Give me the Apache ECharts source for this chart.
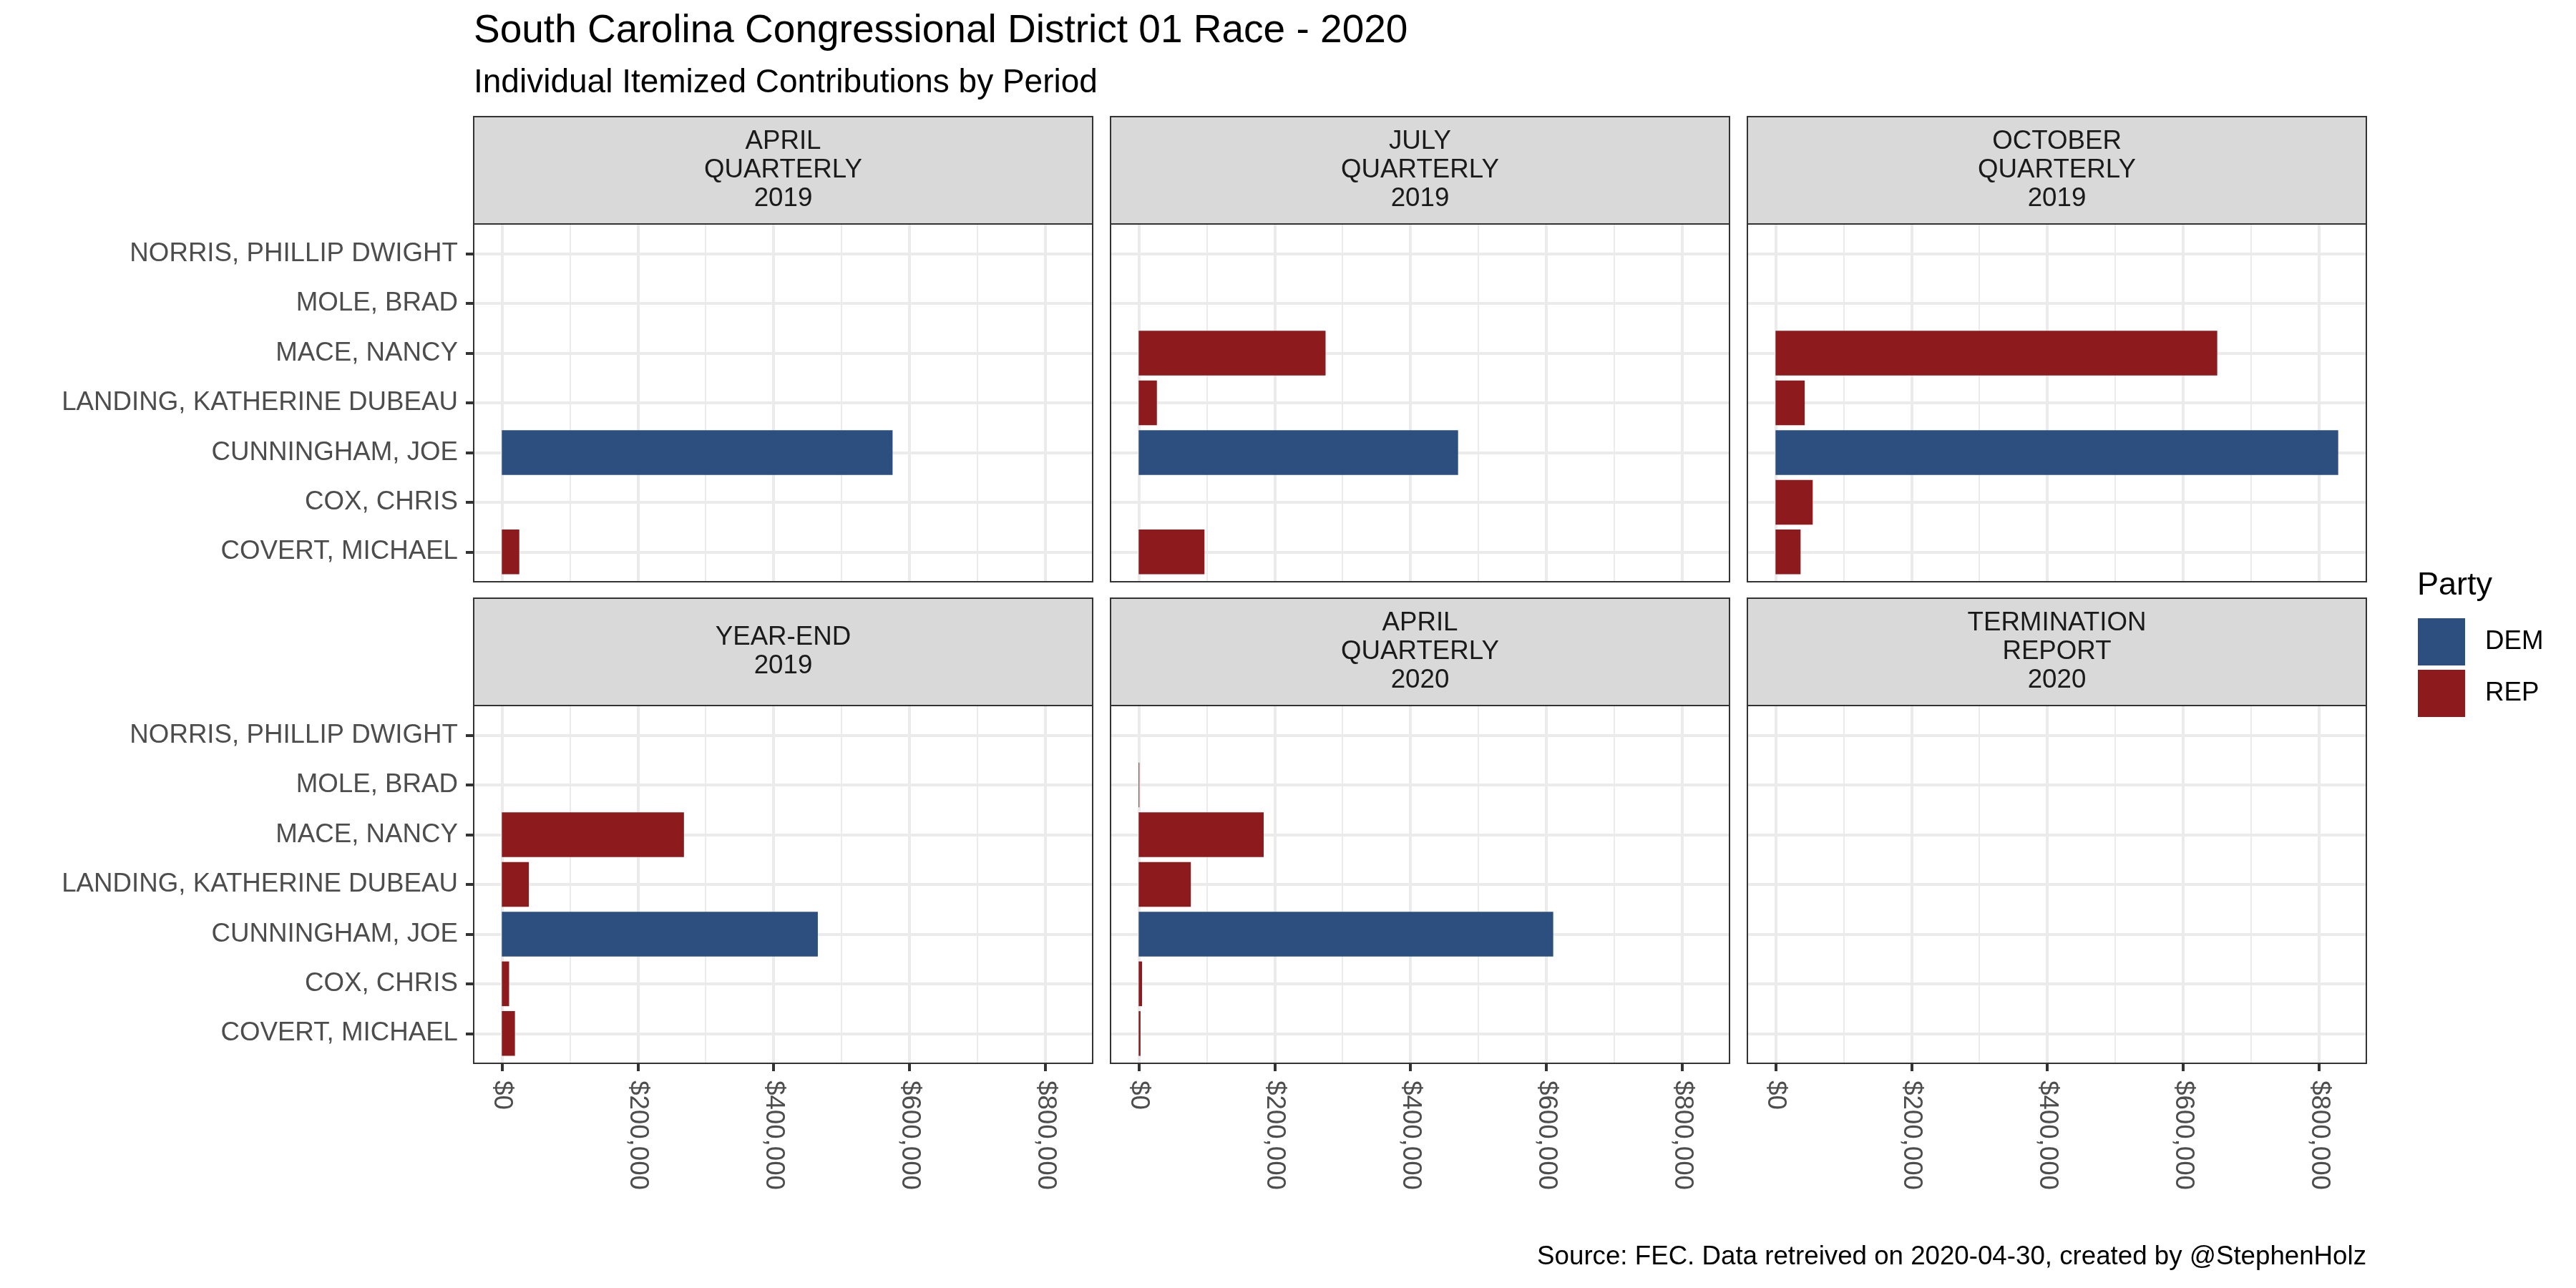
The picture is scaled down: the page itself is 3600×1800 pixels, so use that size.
<!DOCTYPE html>
<html>
<head>
<meta charset="utf-8">
<script src="https://cdn.jsdelivr.net/npm/echarts@6/dist/echarts.min.js"></script>
<style>
html,body{margin:0;padding:0;background:#ffffff;}
#chart{width:3600px;height:1800px;}
</style>
</head>
<body>
<div id="chart"></div>
<script>
// ---------------- DATA ----------------
const candidates = [
  'COVERT, MICHAEL',
  'COX, CHRIS',
  'CUNNINGHAM, JOE',
  'LANDING, KATHERINE DUBEAU',
  'MACE, NANCY',
  'MOLE, BRAD',
  'NORRIS, PHILLIP DWIGHT'
];
const candidateParty = ['REP', 'REP', 'DEM', 'REP', 'REP', 'REP', 'REP'];
const periods = [
  'APRIL\nQUARTERLY\n2019',
  'JULY\nQUARTERLY\n2019',
  'OCTOBER\nQUARTERLY\n2019',
  'YEAR-END\n2019',
  'APRIL\nQUARTERLY\n2020',
  'TERMINATION\nREPORT\n2020'
];
// values in candidate order (null = no contributions reported)
const april2019   = [25700,  null,   575000, null,   null,   null, null];
const july2019    = [96800,  null,   470000, 26800,  275000, null, null];
const october2019 = [36900,  54700,  828000, 43000,  650000, null, null];
const yearEnd2019 = [19300,  10700,  465000, 39700,  268000, null, null];
const april2020   = [2700,   5000,   610000, 76800,  184000, 1000, null];
const termination2020 = [null, null, null, null, null, null, null];
const periodValues = [april2019, july2019, october2019, yearEnd2019, april2020, termination2020];

const parties = ['DEM', 'REP'];
const xTickStep = 200000;
const xTickLast = 800000;
const titleText = 'South Carolina Congressional District 01 Race - 2020';
const subtitleText = 'Individual Itemized Contributions by Period';
const captionText = 'Source: FEC. Data retreived on 2020-04-30, created by @StephenHolz';
const legendTitle = 'Party';

// ---------------- STYLE / LAYOUT ----------------
const FONT = '"Liberation Sans", Arial, Helvetica, sans-serif';
const partyColor = { DEM: '#2D4F80', REP: '#8D1B1E' };
const colLeft = [662, 1552, 2442];
const panelW = 865;
const stripTop = [163, 836];
const stripH = 150;
const plotH = 500;
const SMALL = 36.7;

// data range with ggplot-like 5% expansion
let dataMax = 0;
periodValues.forEach(a => a.forEach(v => { if (v != null && v > dataMax) dataMax = v; }));
const xMin = -0.05 * dataMax;
const xMax = 1.05 * dataMax;
const nCat = candidates.length;
const catExpand = 0.6; // discrete expansion (units)

const fmtMoney = v => '$' + Number(v).toLocaleString('en-US');

const grid = [], xAxis = [], yAxis = [], series = [], graphic = [];

periods.forEach((label, p) => {
  const col = p % 3, row = Math.floor(p / 3);
  const L = colLeft[col];
  const T = stripTop[row] + stripH;
  const unit = plotH / (nCat - 1 + 2 * catExpand);
  const inset = unit * (catExpand - 0.5);

  // outer grid (grid lines)
  grid.push({ left: L, top: T, width: panelW, height: plotH });
  // inner grid (bars + y labels)
  grid.push({ left: L, top: T + inset, width: panelW, height: plotH - 2 * inset });
  // tick grid ($0 .. $800,000)
  const tickL = L + panelW * (0 - xMin) / (xMax - xMin);
  const tickW = panelW * xTickLast / (xMax - xMin);
  grid.push({ left: tickL, top: T, width: tickW, height: plotH });

  const g0 = 3 * p, g1 = 3 * p + 1, g2 = 3 * p + 2;

  xAxis.push({
    gridIndex: g0, type: 'value', min: xMin, max: xMax,
    minInterval: xTickStep, maxInterval: xTickStep,
    axisLine: { show: false, onZero: false }, axisTick: { show: false }, axisLabel: { show: false },
    splitLine: { show: true, showMinLine: false, showMaxLine: false, lineStyle: { color: '#EBEBEB', width: 4 } },
    minorTick: { show: false, splitNumber: 2 },
    minorSplitLine: { show: true, lineStyle: { color: '#EBEBEB', width: 2 } }
  });
  yAxis.push({
    gridIndex: g0, type: 'value', min: -catExpand, max: nCat - 1 + catExpand,
    minInterval: 1, maxInterval: 1,
    axisLine: { show: false, onZero: false }, axisTick: { show: false }, axisLabel: { show: false },
    splitLine: { show: true, showMinLine: false, showMaxLine: false, lineStyle: { color: '#EBEBEB', width: 4 } }
  });

  xAxis.push({ gridIndex: g1, type: 'value', min: xMin, max: xMax, show: false, axisLine: { onZero: false } });
  yAxis.push({
    gridIndex: g1, type: 'category', data: candidates, position: 'left',
    axisLine: { show: false, onZero: false },
    axisTick: { show: col === 0, alignWithLabel: true, length: 11, lineStyle: { color: '#333333', width: 4 } },
    axisLabel: { show: col === 0, margin: 22, color: '#4D4D4D', fontSize: SMALL, fontFamily: FONT, padding: [6, 0, 0, 0] },
    splitLine: { show: false }
  });

  xAxis.push({
    gridIndex: g2, type: 'value', min: 0, max: xTickLast, interval: xTickStep, position: 'bottom',
    axisLine: { show: false, onZero: false }, splitLine: { show: false },
    axisTick: { show: row === 1, length: 11, lineStyle: { color: '#333333', width: 4 } },
    axisLabel: { show: row === 1, rotate: -90, margin: 24, color: '#4D4D4D', fontSize: SMALL, fontFamily: FONT, formatter: fmtMoney }
  });
  yAxis.push({ gridIndex: g2, type: 'value', show: false, axisLine: { onZero: false } });

  const vals = periodValues[p];
  parties.forEach(party => {
    series.push({
      type: 'bar', name: party, xAxisIndex: g1, yAxisIndex: g1, stack: 'panel' + p,
      barCategoryGap: '10%', silent: true, animation: false,
      itemStyle: { color: partyColor[party] },
      data: vals.map((v, i) => candidateParty[i] === party ? v : null)
    });
  });

  // strip
  graphic.push({
    type: 'rect', z: 50, silent: true,
    shape: { x: L, y: stripTop[row], width: panelW, height: stripH },
    style: { fill: '#D9D9D9', stroke: '#333333', lineWidth: 2 }
  });
  graphic.push({
    type: 'text', z: 51, silent: true, x: L + panelW / 2, y: stripTop[row] + stripH / 2,
    style: { text: label, fill: '#1A1A1A', fontSize: SMALL, fontFamily: FONT, align: 'center', verticalAlign: 'middle', lineHeight: 40 }
  });
  // panel border
  graphic.push({
    type: 'rect', z: 60, silent: true,
    shape: { x: L, y: T, width: panelW, height: plotH },
    style: { fill: 'none', stroke: '#333333', lineWidth: 2 }
  });
});

// titles & caption
graphic.push({ type: 'text', z: 70, silent: true, x: 662, y: 44,
  style: { text: titleText, fill: '#000000', fontSize: 55, fontFamily: FONT, align: 'left', verticalAlign: 'middle' } });
graphic.push({ type: 'text', z: 70, silent: true, x: 662, y: 116,
  style: { text: subtitleText, fill: '#000000', fontSize: 46, fontFamily: FONT, align: 'left', verticalAlign: 'middle' } });
graphic.push({ type: 'text', z: 70, silent: true, x: 3307, y: 1757,
  style: { text: captionText, fill: '#000000', fontSize: SMALL, fontFamily: FONT, align: 'right', verticalAlign: 'middle' } });
graphic.push({ type: 'text', z: 70, silent: true, x: 3378, y: 819,
  style: { text: legendTitle, fill: '#000000', fontSize: 45, fontFamily: FONT, align: 'left', verticalAlign: 'middle' } });

const chart = echarts.init(document.getElementById('chart'), null, { renderer: 'canvas', width: 3600, height: 1800 });
chart.setOption({
  animation: false,
  backgroundColor: '#ffffff',
  textStyle: { fontFamily: FONT },
  grid, xAxis, yAxis, series, graphic,
  legend: {
    data: parties, orient: 'vertical', left: 3379, top: 864, padding: 0,
    itemWidth: 66, itemHeight: 66, itemGap: 6, icon: 'rect', selectedMode: false,
    textStyle: { fontSize: SMALL, color: '#000000', fontFamily: FONT, padding: [0, 0, 0, 23] }
  }
});
</script>
</body>
</html>
